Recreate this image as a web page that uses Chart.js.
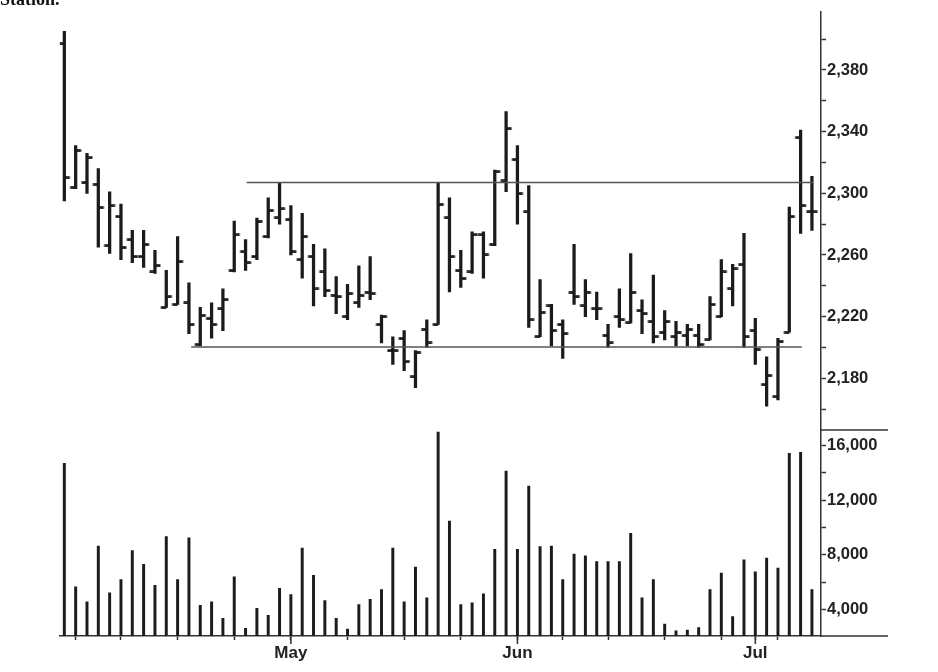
<!DOCTYPE html>
<html><head><meta charset="utf-8">
<script src="https://cdn.jsdelivr.net/npm/chart.js@4"></script>
<style>
html,body{margin:0;padding:0;background:#fff;}
#wrap{position:relative;width:938px;height:672px;overflow:hidden;background:#fff;}
#cap{position:absolute;left:0;top:-11px;font:bold 18px "Liberation Serif";color:#111;}
canvas{position:absolute;left:0;top:0;}
</style></head><body>
<div id="wrap"><canvas id="c" width="938" height="672"></canvas><div id="cap">Station.</div></div>
<script>
// ---- data (one entry per trading day) ----
const opens  = [2397,2304,2307,2306,2266,2285,2270,2259,2249,2226,2228,2229,2202,2219,2225,2250,2262,2259,2272,2284,
                2283,2257,2259,2249,2234,2220,2229,2236,2215,2198,2206,2181,2212,2215,2284,2250,2249,2273,2267,2308,
                2322,2288,2207,2227,2215,2236,2227,2225,2208,2220,2216,2224,2217,2210,2207,2208,2208,2205,2220,2238,
                2254,2211,2176,2168,2210,2336,2288];
const highs  = [2405,2331,2326,2316,2301,2293,2276,2276,2263,2250,2272,2242,2226,2229,2238,2282,2270,2284,2297,2307,
                2292,2287,2267,2264,2246,2241,2253,2259,2221,2207,2211,2198,2218,2307,2297,2263,2275,2275,2315,2353,
                2331,2305,2244,2228,2218,2267,2244,2236,2215,2238,2261,2231,2247,2224,2217,2215,2215,2233,2257,2254,
                2274,2219,2194,2206,2291,2341,2311];
const lows   = [2295,2303,2300,2265,2261,2257,2255,2252,2248,2226,2228,2209,2201,2206,2211,2249,2250,2257,2271,2280,
                2260,2245,2227,2233,2222,2218,2226,2231,2203,2189,2185,2174,2200,2215,2236,2239,2248,2245,2266,2301,
                2280,2213,2207,2201,2193,2228,2220,2218,2200,2213,2216,2209,2203,2205,2201,2201,2200,2205,2220,2227,
                2200,2189,2162,2166,2210,2274,2276];
const closes = [2310,2328,2323,2291,2292,2265,2259,2267,2253,2233,2256,2215,2221,2215,2231,2273,2255,2282,2289,2290,
                2262,2272,2238,2237,2233,2235,2234,2235,2220,2198,2191,2197,2203,2293,2259,2245,2273,2260,2314,2342,
                2300,2218,2223,2211,2209,2233,2236,2225,2203,2218,2236,2222,2207,2217,2210,2212,2202,2228,2249,2251,
                2207,2199,2182,2204,2285,2292,2288];
const volumes = [14700,5650,4560,8650,5210,6180,8310,7300,5770,9330,6180,9240,4290,4560,3350,6380,2620,4070,3560,5550,
                 5090,8490,6500,4650,3350,2550,4360,4730,5450,8490,4560,7100,4850,17000,10470,4360,4490,5140,8410,14130,
                 8410,13040,8600,8650,6180,8050,7930,7510,7510,7510,9580,4850,6180,2930,2420,2490,2670,5450,6670,3470,
                 7640,6760,7760,7030,15440,15520,5450];
// horizontal levels: [level, fromDay, toDay]
const resistance = [2307, 16.1, 66.1];
const support    = [2200.3, 11.2, 65.1];
// axis ticks
const weekTickIdx = [1,5,10,15,20,25,30,35,40,44,48,53,58,61,63];
const monthIdx    = [20,40,61];
const monthNames  = ['May','Jun','Jul'];
const priceTicks  = [2160,2180,2200,2220,2240,2260,2280,2300,2320,2340,2360,2380,2400];
const priceLabels = [2180,2220,2260,2300,2340,2380];
const volTicks    = [4000,6000,8000,10000,12000,14000,16000];
const volLabels   = [4000,8000,12000,16000];

// ---- build ----
const INK = '#1b1b1b';
function makeTick(side){
  const cv = document.createElement('canvas');
  cv.width = 14; cv.height = 3;
  const g = cv.getContext('2d');
  g.fillStyle = INK;
  if (side === 'left') g.fillRect(1.5, 0.2, 5.6, 2.7);
  else g.fillRect(6.9, 0.2, 5.6, 2.7);
  return cv;
}
const leftTick = makeTick('left'), rightTick = makeTick('right');

const idx = opens.map((_, i) => i);
const rangeData = idx.map(i => ({x: i, y: [lows[i], highs[i]]}));
const openData  = idx.map(i => ({x: i, y: opens[i]}));
const closeData = idx.map(i => ({x: i, y: closes[i]}));
const volData   = idx.map(i => ({x: i, y: volumes[i]}));
const resData = [{x: resistance[1], y: resistance[0]}, {x: resistance[2], y: resistance[0]}];
const supData = [{x: support[1], y: support[0]}, {x: support[2], y: support[0]}];

const fmt = v => Math.round(v).toLocaleString('en-US');
const near = (list, v) => list.some(t => Math.abs(t - v) < 1e-6);

const extras = {
  id: 'extras',
  afterDraw(chart){
    const {ctx} = chart;
    const x = chart.scales.x, yv = chart.scales.yv;
    const ca = chart.chartArea;
    ctx.save();
    ctx.strokeStyle = '#333';
    ctx.lineWidth = 1.5;
    ctx.beginPath();
    ctx.moveTo(ca.right, yv.top); ctx.lineTo(yv.right, yv.top);
    ctx.moveTo(ca.right, yv.bottom); ctx.lineTo(yv.right, yv.bottom);
    monthIdx.forEach(m => {
      const px = x.getPixelForValue(m);
      ctx.moveTo(px, ca.bottom); ctx.lineTo(px, ca.bottom + 8);
    });
    ctx.stroke();
    ctx.restore();
  }
};

const yTickFont = {family: 'Liberation Sans', weight: 'bold', size: 16.5};

new Chart(document.getElementById('c'), {
  type: 'bar',
  data: {
    datasets: [
      {type: 'line', data: resData, yAxisID: 'y', borderColor: '#555', borderWidth: 1.6, pointRadius: 0, fill: false},
      {type: 'line', data: supData, yAxisID: 'y', borderColor: '#555', borderWidth: 1.6, pointRadius: 0, fill: false},
      {type: 'bar', data: rangeData, yAxisID: 'y', backgroundColor: INK, barThickness: 2.6, grouped: false, borderWidth: 0, borderSkipped: false},
      {type: 'line', data: openData, yAxisID: 'y', showLine: false, pointStyle: leftTick, pointRadius: 3, pointHoverRadius: 3},
      {type: 'line', data: closeData, yAxisID: 'y', showLine: false, pointStyle: rightTick, pointRadius: 3, pointHoverRadius: 3},
      {type: 'bar', data: volData, yAxisID: 'yv', backgroundColor: INK, barThickness: 2.3, grouped: false, borderWidth: 0}
    ]
  },
  options: {
    responsive: false,
    animation: false,
    events: [],
    layout: {padding: {left: 59.8, right: 50, top: 12, bottom: 0}},
    plugins: {legend: {display: false}, tooltip: {enabled: false}},
    scales: {
      x: {
        type: 'linear', position: 'bottom', min: -0.4, max: 66.8, offset: false,
        afterFit: s => { s.height = 36; },
        afterBuildTicks: s => { s.ticks = weekTickIdx.map(v => ({value: v})); },
        grid: {drawOnChartArea: false, tickLength: 4, color: '#333', tickWidth: 1.5, offset: false},
        border: {display: true, color: '#333', width: 1.5},
        ticks: {
          autoSkip: false, maxRotation: 0, padding: 3, color: '#222',
          font: {family: 'Liberation Sans', weight: 'bold', size: 17},
          callback: v => { const k = monthIdx.indexOf(v); return k >= 0 ? monthNames[k] : ''; }
        }
      },
      y: {
        type: 'linear', position: 'right', stack: 'panels', stackWeight: 418,
        min: 2146.5, max: 2417.6,
        afterFit: s => { s.width = 67; },
        afterBuildTicks: s => { s.ticks = priceTicks.map(v => ({value: v})); },
        grid: {drawOnChartArea: false, tickLength: 5, color: '#333', tickWidth: 1.5},
        border: {display: true, color: '#333', width: 1.5},
        ticks: {
          autoSkip: false, padding: 1, color: '#222', font: yTickFont,
          callback: v => (near(priceLabels, v) ? fmt(v) : '')
        }
      },
      yv: {
        type: 'linear', position: 'right', stack: 'panels', stackWeight: 206,
        min: 2050, max: 17150,
        afterFit: s => { s.width = 67; },
        afterBuildTicks: s => { s.ticks = volTicks.map(v => ({value: v})); },
        grid: {drawOnChartArea: false, tickLength: 5, color: '#333', tickWidth: 1.5},
        border: {display: true, color: '#333', width: 1.5},
        ticks: {
          autoSkip: false, padding: 1, color: '#222', font: yTickFont,
          callback: v => (near(volLabels, v) ? fmt(v) : '')
        }
      }
    }
  },
  plugins: [extras]
});
</script>
</body></html>
